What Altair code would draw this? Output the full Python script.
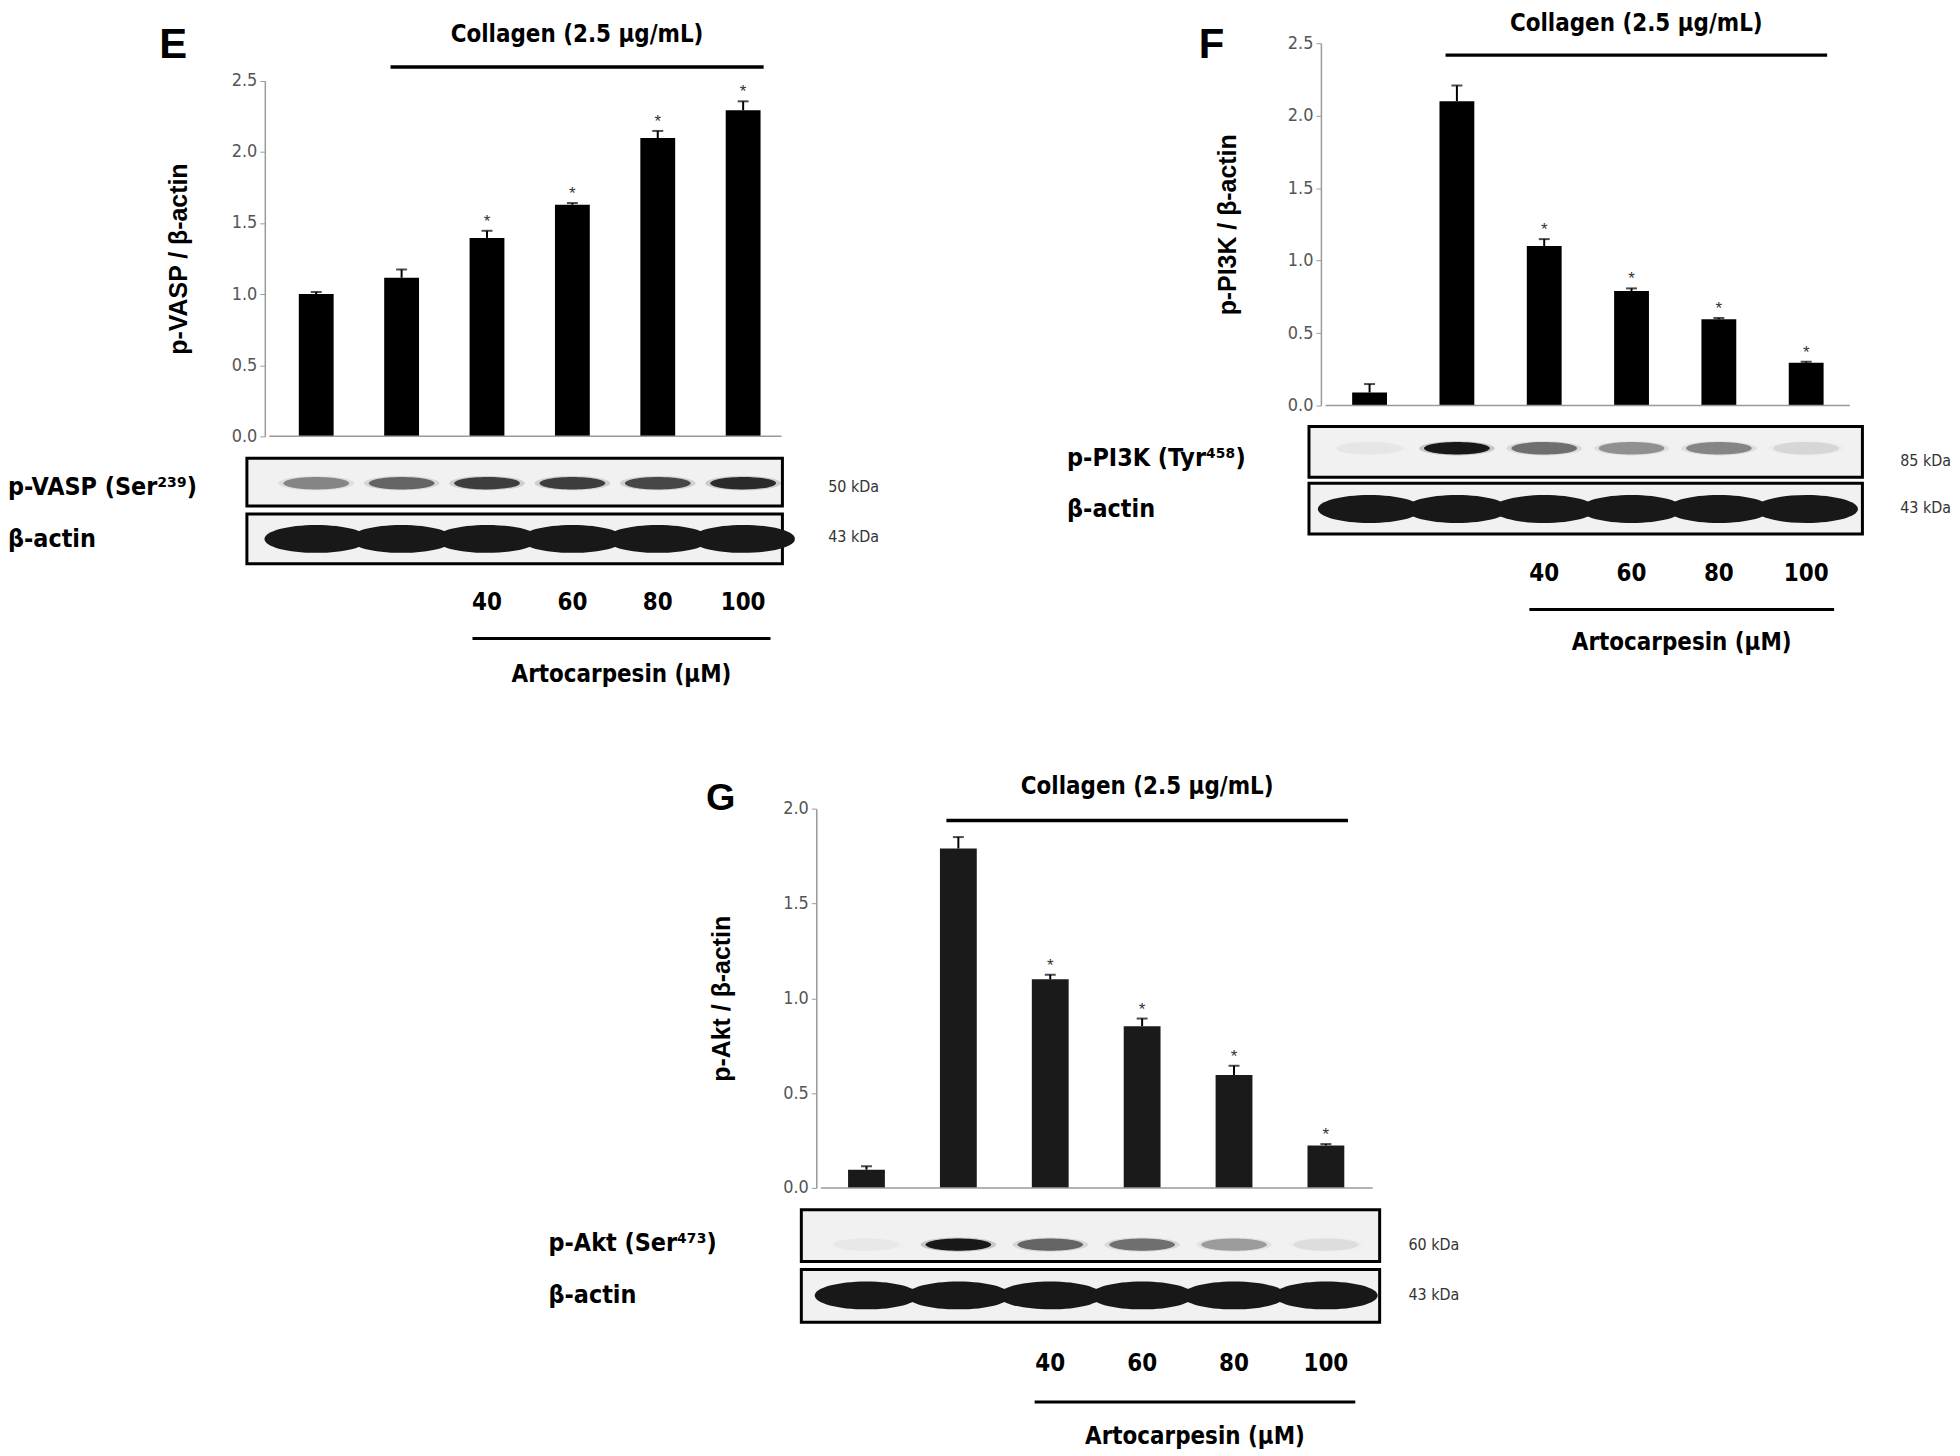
import altair as alt
import pandas as pd

# ---------------- data ----------------
lanes = [1, 2, 3, 4, 5, 6]
significant = [False, False, True, True, True, True]
dose_lanes = [3, 4, 5, 6]
dose_labels = ["40", "60", "80", "100"]
collagen_lanes = [2, 6]
artocarpesin_lanes = [3, 6]
collagen_label = "Collagen (2.5 µg/mL)"
artocarpesin_label = "Artocarpesin (µM)"

vasp_ratio = [1.00, 1.115, 1.395, 1.628, 2.097, 2.292]
vasp_sem = [0.015, 0.058, 0.05, 0.012, 0.05, 0.063]
pi3k_ratio = [0.09, 2.10, 1.10, 0.79, 0.595, 0.295]
pi3k_sem = [0.058, 0.108, 0.048, 0.018, 0.009, 0.007]
akt_ratio = [0.096, 1.79, 1.10, 0.853, 0.595, 0.224]
akt_sem = [0.018, 0.06, 0.024, 0.04, 0.049, 0.007]

# relative blot band intensity (0..1)
vasp_band = [0.45, 0.6, 0.8, 0.8, 0.75, 0.9]
pi3k_band = [0.04, 1.0, 0.55, 0.4, 0.45, 0.1]
akt_band = [0.03, 1.0, 0.6, 0.55, 0.35, 0.08]
actin_band = [1.0, 1.0, 1.0, 1.0, 1.0, 1.0]

NARROW = "Liberation Sans Narrow, Arial Narrow, DejaVu Sans Condensed, sans-serif"
SANS = "Liberation Sans, Arial, sans-serif"

TARGET_SHAPE = "M-1,0A1,0.19,0,1,1,1,0A1,0.19,0,1,1,-1,0Z"
ACTIN_SHAPE = "M-1,0A1,0.27,0,1,1,1,0A1,0.27,0,1,1,-1,0Z"


def panel(p, letter, ytitle, values, errors, target_label, kda, levels):
    bx0, by0, bx1, by1 = p["box"]
    px0, py0, px1, py1 = p["plot"]
    X = lambda v: v - bx0  # noqa: E731  (figure pixel -> panel pixel)
    Y = lambda v: v - by0  # noqa: E731

    xscale = alt.Scale(domain=list(p["dom"]), range=[X(px0), X(px1)], nice=False, zero=False)
    yscale = alt.Scale(domain=[0, p["ymax"]], range=[Y(py1), Y(py0)], nice=False)

    def xe(field):
        return alt.X(f"{field}:Q", scale=xscale, axis=None)

    def txt(text, x, y, font, size, weight="bold", align="center", color="black"):
        return alt.Chart(pd.DataFrame({"t": [text]})).mark_text(
            font=font, fontSize=size, fontWeight=weight, align=align, baseline="middle", color=color
        ).encode(x=alt.value(X(x)), y=alt.value(Y(y)), text="t:N")

    df = pd.DataFrame({"lane": lanes, "value": values, "err": errors, "sig": significant})
    df["top"] = df["value"] + df["err"]
    yaxis = alt.Axis(values=p["ticks"], format=".1f", offset=-X(p["axis_x"]), grid=False,
                     domainColor="#9a9a9a", domainWidth=1.5, tickColor="#9a9a9a", tickSize=5,
                     labelColor="#555555", labelFont=NARROW, labelFontSize=18, labelPadding=3,
                     title=ytitle, titleFont=SANS, titleFontSize=25, titleFontWeight="bold",
                     titleColor="black", titleX=p["title_x"] - p["axis_x"], titleBaseline="middle")
    base = alt.Chart(df)
    bars = base.mark_bar(size=p["bar"], color=p["bar_color"]).encode(
        x=xe("lane"), y=alt.Y("value:Q", scale=yscale, axis=yaxis))
    err = base.mark_rule(color="black", strokeWidth=2).encode(
        x=xe("lane"), y=alt.Y("value:Q", scale=yscale), y2="top:Q")
    cap = base.mark_tick(orient="horizontal", size=11, thickness=2, color="black").encode(
        x=xe("lane"), y=alt.Y("top:Q", scale=yscale))
    star = base.transform_filter("datum.sig").mark_text(
        text="*", font=SANS, fontSize=17, color="#333333", dy=-4, baseline="alphabetic").encode(
        x=xe("lane"), y=alt.Y("top:Q", scale=yscale))

    base_df = pd.DataFrame({"start": [p["axis_lane"]], "end": [p["end_lane"]], "zero": [0.0]})
    baseline = alt.Chart(base_df).mark_rule(color="#9a9a9a", strokeWidth=1.5).encode(
        x=xe("start"), x2="end:Q", y=alt.Y("zero:Q", scale=yscale))

    coll_df = pd.DataFrame({"start": [collagen_lanes[0] - 0.13], "end": [collagen_lanes[1] + 0.24],
                            "label": [collagen_label]})
    coll_df["mid"] = (coll_df["start"] + coll_df["end"]) / 2
    coll_rule = alt.Chart(coll_df).mark_rule(color="black", strokeWidth=3.5).encode(
        x=xe("start"), x2="end:Q", y=alt.value(Y(p["coll_rule_y"])))
    coll_text = alt.Chart(coll_df).mark_text(font=NARROW, fontSize=24, fontWeight="bold",
                                             baseline="middle", color="black").encode(
        x=xe("mid"), y=alt.value(Y(p["coll_text_y"])), text="label:N")

    layers = [bars, err, cap, star, baseline, coll_rule, coll_text,
              txt(letter, p["letter"][0], p["letter"][1], SANS, p["letter"][2])]

    # western blot strips
    frame_df = pd.DataFrame({"start": [p["dom"][0]], "end": [p["dom"][1]]})
    blots = [(target_label, kda, levels, TARGET_SHAPE, 66, True, p["blot1"]),
             ("β-actin", "43 kDa", actin_band, ACTIN_SHAPE, 104, False, p["blot2"])]
    for label, kd, lev, shape, bw, halo, (t, b, band_y, label_y, kda_y) in blots:
        layers.append(alt.Chart(frame_df).mark_rect(fill="#f1f1f1", stroke="black", strokeWidth=3).encode(
            x=xe("start"), x2="end:Q", y=alt.value(Y(t)), y2=alt.value(Y(b))))
        bdf = pd.DataFrame({"lane": lanes, "level": lev})
        bdf["halo"] = bdf["level"] * 0.22
        if halo:
            layers.append(alt.Chart(bdf).mark_point(shape=shape, filled=True, size=(bw * 1.15) ** 2,
                                                    color="#333333", strokeWidth=0).encode(
                x=xe("lane"), y=alt.value(Y(band_y)),
                opacity=alt.Opacity("halo:Q", scale=None, legend=None)))
        layers.append(alt.Chart(bdf).mark_point(shape=shape, filled=True, size=bw ** 2,
                                                color="#181818", strokeWidth=0).encode(
            x=xe("lane"), y=alt.value(Y(band_y)),
            opacity=alt.Opacity("level:Q", scale=None, legend=None)))
        layers.append(txt(label, p["label_x"], label_y, NARROW, 25, align="left"))
        layers.append(txt(kd, p["kda_x"], kda_y, NARROW, 16, weight="normal", align="left", color="#333333"))

    # dose annotation
    ddf = pd.DataFrame({"lane": dose_lanes, "label": dose_labels})
    layers.append(alt.Chart(ddf).mark_text(font=NARROW, fontSize=24, fontWeight="bold",
                                           baseline="middle", color="black").encode(
        x=xe("lane"), y=alt.value(Y(p["num_y"])), text="label:N"))
    adf = pd.DataFrame({"start": [artocarpesin_lanes[0] - 0.17], "end": [artocarpesin_lanes[1] + 0.32],
                        "label": [artocarpesin_label]})
    adf["mid"] = (adf["start"] + adf["end"]) / 2
    layers.append(alt.Chart(adf).mark_rule(color="black", strokeWidth=3).encode(
        x=xe("start"), x2="end:Q", y=alt.value(Y(p["line_y"]))))
    layers.append(alt.Chart(adf).mark_text(font=NARROW, fontSize=24, fontWeight="bold",
                                           baseline="middle", color="black").encode(
        x=xe("mid"), y=alt.value(Y(p["text_y"])), text="label:N"))

    return alt.layer(*layers).properties(width=bx1 - bx0, height=by1 - by0)


# positions below are figure pixels
E = dict(box=(0, 0, 1000, 740), plot=(240, 72.7, 788, 430), dom=(0.188, 6.46),
         axis_x=263, axis_lane=0.45, end_lane=6.45, ymax=2.5, ticks=[0, 0.5, 1.0, 1.5, 2.0, 2.5],
         title_x=176, bar=35, bar_color="black", letter=(171, 37, 42), coll_rule_y=59, coll_text_y=27,
         blot1=(452, 500, 477, 481, 481), blot2=(508, 558, 533, 533, 531), label_x=5, kda_x=829,
         num_y=597, line_y=633, text_y=670)
F = dict(box=(1000, 0, 1950, 740), plot=(1307, 35, 1873, 399), dom=(0.306, 6.644),
         axis_x=1324, axis_lane=0.496, end_lane=6.50, ymax=2.5, ticks=[0, 0.5, 1.0, 1.5, 2.0, 2.5],
         title_x=1230, bar=35, bar_color="black", letter=(1214, 37, 42), coll_rule_y=47, coll_text_y=16,
         blot1=(420, 471, 442, 452, 455), blot2=(477, 528, 503, 503, 502), label_x=1069, kda_x=1906,
         num_y=568, line_y=604, text_y=638)
G = dict(box=(0, 740, 1950, 1448), plot=(797, 804, 1388, 1185), dom=(0.291, 6.585),
         axis_x=817, axis_lane=0.504, end_lane=6.51, ymax=2.0, ticks=[0, 0.5, 1.0, 1.5, 2.0],
         title_x=722, bar=37, bar_color="#1a1a1a", letter=(721, 794, 38), coll_rule_y=816, coll_text_y=782,
         blot1=(1207, 1259, 1242, 1240, 1242), blot2=(1267, 1320, 1293, 1293, 1293), label_x=548,
         kda_x=1412, num_y=1362, line_y=1400, text_y=1435)

panel_e = panel(E, "E", "p-VASP / β-actin", vasp_ratio, vasp_sem, "p-VASP (Ser²³⁹)", "50 kDa", vasp_band)
panel_f = panel(F, "F", "p-PI3K / β-actin", pi3k_ratio, pi3k_sem, "p-PI3K (Tyr⁴⁵⁸)", "85 kDa", pi3k_band)
panel_g = panel(G, "G", "p-Akt / β-actin", akt_ratio, akt_sem, "p-Akt (Ser⁴⁷³)", "60 kDa", akt_band)

top_row = alt.hconcat(panel_e, panel_f, spacing=0)
chart = alt.vconcat(top_row, panel_g, spacing=0).properties(
    padding={"left": -5, "top": -3, "right": 0, "bottom": 0}
).configure_view(strokeWidth=0).configure_axis(grid=False)

chart.save("out.html", embed_options={"renderer": "svg", "actions": False})
